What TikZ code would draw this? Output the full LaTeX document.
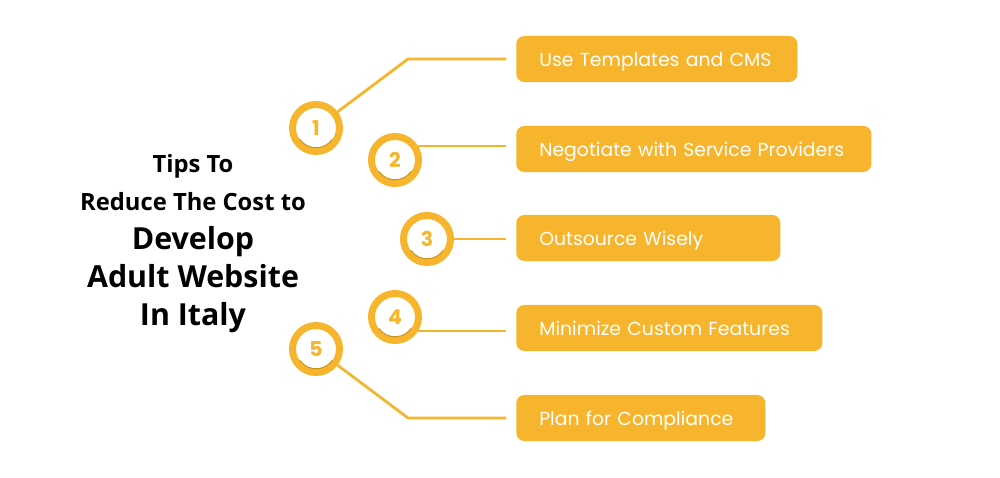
\documentclass[tikz,border=0pt]{standalone}
\usepackage{fontspec}
\setmainfont{Poppins}
\newfontfamily\titlefont{Open Sans}
\definecolor{gold}{HTML}{F6B52D}
\definecolor{goldshade}{HTML}{C9921A}
\begin{document}
\begin{tikzpicture}[x=0.025cm,y=-0.025cm,
nr/.style={circle,draw=gold,line width=0.175cm,fill=white,minimum size=1.175cm,inner sep=0pt,text=gold,font=\bfseries\fontsize{14.5}{14.5}\selectfont},
bx/.style={fill=gold,rounded corners=0.2cm,text=white,anchor=west,minimum height=1.15cm,inner xsep=0.575cm,inner ysep=0pt,text height=1.05em,text depth=0pt,text width=#1,font=\fontsize{13.4}{15}\selectfont},
ln/.style={draw=gold,line width=0.07cm,shorten >=0.24cm},
tt/.style={anchor=base,font=\titlefont\bfseries\fontsize{16.9}{18}\selectfont},
tb/.style={anchor=base,font=\titlefont\bfseries\fontsize{21.6}{22}\selectfont}]
\useasboundingbox (0,0) rectangle (1000,478);
% title
\node[tt] (t1) at (193,173) {Tips To}; \node[tt] (t2) at (193,211) {Reduce The Cost to};
\node[tb] (t3) at (193,250) {Develop}; \node[tb] (t4) at (193,288) {Adult Website}; \node[tb] (t5) at (193,325) {In Italy};
% boxes
\node[bx=5.875cm] (b1) at (516,59) {Use Templates and CMS};
\node[bx=7.725cm] (b2) at (516,149) {Negotiate with Service Providers};
\node[bx=5.45cm] (b3) at (516,238) {Outsource Wisely};
\node[bx=6.5cm] (b4) at (516,328) {Minimize Custom Features};
\node[bx=5.075cm] (b5) at (516,418) {Plan for Compliance};
% numbers
\node[nr] (c1) at (316,128) {1}; \node[nr] (c2) at (395,160) {2}; \node[nr] (c3) at (427,239) {3};
\node[nr] (c4) at (395,317) {4}; \node[nr] (c5) at (316,349) {5};
\foreach \c in {c1,c2,c3,c4,c5}
  \draw[goldshade,line width=0.025cm] ([shift={(215:0.495cm)}]\c.center) arc[start angle=215,end angle=325,radius=0.495cm];
% connectors
\coordinate (k1) at (408,59); \coordinate (k5) at (408,418);
\draw[ln] (c1) -- (k1) -- (b1.west);
\draw[ln] (c2.31) -- (c2.31 -| b2.west);
\draw[ln] (c3) -- (c3 -| b3.west);
\draw[ln] (c4.-31) -- (c4.-31 -| b4.west);
\draw[ln] (c5) -- (k5) -- (b5.west);
\end{tikzpicture}
\end{document}
